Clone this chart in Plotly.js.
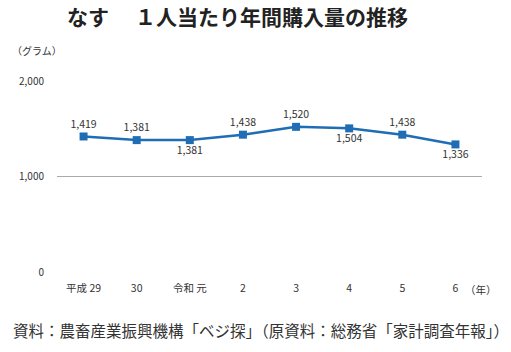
<!DOCTYPE html>
<html><head><meta charset="utf-8">
<script src="https://cdn.plot.ly/plotly-3.0.1.min.js"></script>
<style>body{margin:0;padding:0;background:#fff}#c{width:511px;height:352px}</style>
</head><body><div id="c"></div>
<script>
const categories = ["平成 29", "30", "令和 元", "2", "3", "4", "5", "6"];
const values = [1419, 1381, 1381, 1438, 1520, 1504, 1438, 1336];
const labelPos = ["top center","top center","bottom center","top center","top center","bottom center","top center","bottom center"];
const yTicks = [0, 1000, 2000];
const yTickText = ["0", "1,000", "2,000"];

const font = "'Noto Sans CJK JP', 'Noto Sans', sans-serif";
const trace = {
  x: categories, y: values, type: "scatter", mode: "lines+markers+text",
  line: {color: "#1f6db5", width: 2.5},
  marker: {symbol: "square", size: 8, color: "#1f6db5"},
  text: values.map(v => v.toLocaleString("en-US")),
  textposition: labelPos,
  textfont: {family: font, size: 10.5, color: "#333"},
  cliponaxis: false, hoverinfo: "skip"
};
const layout = {
  width: 511, height: 352,
  margin: {l: 57, r: 29, t: 81, b: 80},
  paper_bgcolor: "#fff", plot_bgcolor: "#fff",
  showlegend: false,
  title: {text: "<b>なす　 １人当たり年間購入量の推移</b>", xref: "container", x: 237.5/511, xanchor: "center",
          yref: "container", y: 1 - 18/352, yanchor: "middle",
          font: {family: font, size: 21, color: "#222"}},
  xaxis: {type: "category", range: [-0.5, 7.5], showgrid: false, showline: false, zeroline: false,
          ticks: "", ticklabelstandoff: 8, tickfont: {family: font, size: 10.5, color: "#333"}},
  yaxis: {range: [0, 2000], tickvals: yTicks, ticktext: yTickText, showgrid: true, gridcolor: "#aaa", gridwidth: 1,
          zeroline: false, showline: false, ticks: "", ticklen: 0, ticklabelstandoff: 12,
          tickfont: {family: font, size: 10, color: "#333"}},
  annotations: [
    {text: "（グラム）", xref: "paper", yref: "paper", x: 0, y: 1, xshift: -47, yshift: 31, xanchor: "left", yanchor: "middle", showarrow: false,
     font: {family: font, size: 10, color: "#333"}},
    {text: "（年）", xref: "paper", yref: "paper", x: 1, y: 0, xshift: -19, yshift: -17, xanchor: "left", yanchor: "middle", showarrow: false,
     font: {family: font, size: 10.5, color: "#333"}},
    {text: "資料：農畜産業振興機構「ベジ探」（原資料：総務省「家計調査年報」）", xref: "paper", yref: "paper", x: 0, y: 0, xshift: -46, yshift: -58,
     xanchor: "left", yanchor: "middle", showarrow: false, font: {family: font, size: 15.5, color: "#333"}}
  ]
};
Plotly.newPlot("c", [trace], layout, {staticPlot: true, displayModeBar: false});
</script></body></html>
